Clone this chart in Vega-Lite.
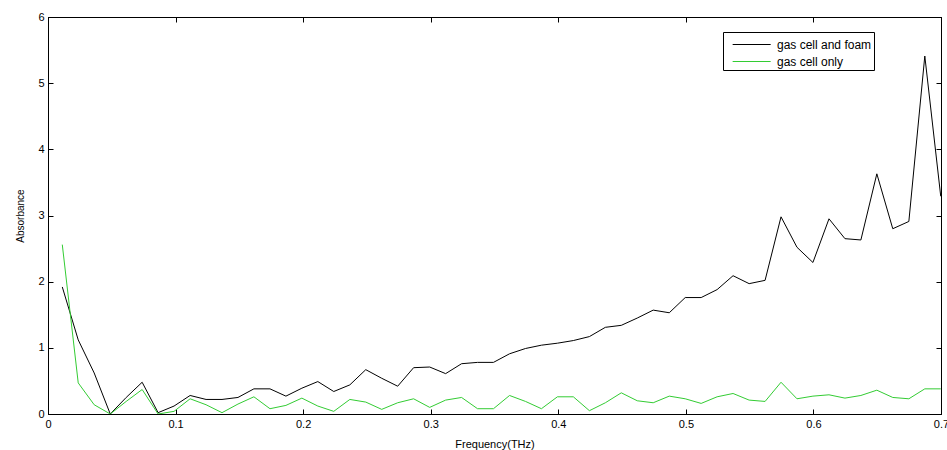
{
  "$schema": "https://vega.github.io/schema/vega-lite/v6.json",
  "width": 893,
  "height": 397,
  "autosize": "none",
  "padding": {"left": 48, "top": 17, "right": 6, "bottom": 36},
  "background": "white",
  "config": {
    "view": {"stroke": "black", "strokeWidth": 1},
    "font": "Liberation Sans",
    "axis": {
      "grid": false,
      "domainColor": "black",
      "tickColor": "black",
      "labelColor": "black",
      "titleColor": "black",
      "labelFont": "Liberation Sans",
      "titleFont": "Liberation Sans",
      "labelFontSize": 11,
      "titleFontSize": 11,
      "titleFontWeight": "normal",
      "tickSize": -5,
      "labelPadding": 9
    }
  },
  "data": {
    "values": [
      {"f": 0.0112, "foam": 1.92, "only": 2.56},
      {"f": 0.0237, "foam": 1.12, "only": 0.47},
      {"f": 0.0362, "foam": 0.62, "only": 0.14},
      {"f": 0.0488, "foam": 0.0, "only": 0.0},
      {"f": 0.0613, "foam": 0.25, "only": 0.19},
      {"f": 0.0738, "foam": 0.48, "only": 0.37},
      {"f": 0.0863, "foam": 0.02, "only": 0.0},
      {"f": 0.0988, "foam": 0.12, "only": 0.04},
      {"f": 0.1114, "foam": 0.28, "only": 0.23},
      {"f": 0.1239, "foam": 0.22, "only": 0.14},
      {"f": 0.1364, "foam": 0.22, "only": 0.02},
      {"f": 0.1489, "foam": 0.25, "only": 0.15},
      {"f": 0.1614, "foam": 0.38, "only": 0.26},
      {"f": 0.174, "foam": 0.38, "only": 0.08},
      {"f": 0.1865, "foam": 0.27, "only": 0.13},
      {"f": 0.199, "foam": 0.39, "only": 0.24},
      {"f": 0.2115, "foam": 0.49, "only": 0.12},
      {"f": 0.224, "foam": 0.34, "only": 0.04},
      {"f": 0.2366, "foam": 0.44, "only": 0.22},
      {"f": 0.2491, "foam": 0.67, "only": 0.18},
      {"f": 0.2616, "foam": 0.54, "only": 0.07},
      {"f": 0.2741, "foam": 0.42, "only": 0.17},
      {"f": 0.2866, "foam": 0.7, "only": 0.23},
      {"f": 0.2992, "foam": 0.71, "only": 0.1},
      {"f": 0.3117, "foam": 0.61, "only": 0.21},
      {"f": 0.3242, "foam": 0.76, "only": 0.25},
      {"f": 0.3367, "foam": 0.78, "only": 0.08},
      {"f": 0.3492, "foam": 0.78, "only": 0.08},
      {"f": 0.3618, "foam": 0.91, "only": 0.28},
      {"f": 0.3743, "foam": 0.99, "only": 0.19},
      {"f": 0.3868, "foam": 1.04, "only": 0.08},
      {"f": 0.3993, "foam": 1.07, "only": 0.26},
      {"f": 0.4118, "foam": 1.11, "only": 0.26},
      {"f": 0.4244, "foam": 1.17, "only": 0.05},
      {"f": 0.4369, "foam": 1.31, "only": 0.17},
      {"f": 0.4494, "foam": 1.34, "only": 0.32},
      {"f": 0.4619, "foam": 1.45, "only": 0.2},
      {"f": 0.4744, "foam": 1.57, "only": 0.17},
      {"f": 0.487, "foam": 1.53, "only": 0.27},
      {"f": 0.4995, "foam": 1.76, "only": 0.23},
      {"f": 0.512, "foam": 1.76, "only": 0.16},
      {"f": 0.5245, "foam": 1.88, "only": 0.26},
      {"f": 0.537, "foam": 2.09, "only": 0.31},
      {"f": 0.5496, "foam": 1.97, "only": 0.21},
      {"f": 0.5621, "foam": 2.02, "only": 0.19},
      {"f": 0.5746, "foam": 2.98, "only": 0.48},
      {"f": 0.5871, "foam": 2.52, "only": 0.23},
      {"f": 0.5996, "foam": 2.29, "only": 0.27},
      {"f": 0.6122, "foam": 2.95, "only": 0.29},
      {"f": 0.6247, "foam": 2.65, "only": 0.24},
      {"f": 0.6372, "foam": 2.63, "only": 0.28},
      {"f": 0.6497, "foam": 3.63, "only": 0.36},
      {"f": 0.6622, "foam": 2.8, "only": 0.25},
      {"f": 0.6748, "foam": 2.91, "only": 0.23},
      {"f": 0.6873, "foam": 5.41, "only": 0.38},
      {"f": 0.6998, "foam": 3.29, "only": 0.38}
    ]
  },
  "transform": [{"fold": ["foam", "only"], "as": ["series", "a"]}],
  "resolve": {"axis": {"x": "independent", "y": "independent"}},
  "layer": [
    {
      "mark": {"type": "line", "strokeWidth": 1, "clip": true},
      "encoding": {
        "x": {
          "field": "f", "type": "quantitative",
          "scale": {"domain": [0, 0.7], "nice": false, "zero": false},
          "axis": {"orient": "bottom", "title": "Frequency(THz)", "values": [0, 0.1, 0.2, 0.3, 0.4, 0.5, 0.6, 0.7], "format": "~g", "titlePadding": 9, "labelFlush": false}
        },
        "y": {
          "field": "a", "type": "quantitative",
          "scale": {"domain": [0, 6], "nice": false},
          "axis": {"orient": "left", "title": "Absorbance", "values": [0, 1, 2, 3, 4, 5, 6], "titleFontSize": 10, "titlePadding": 12, "labelFlush": false}
        },
        "color": {
          "field": "series", "type": "nominal",
          "scale": {"domain": ["foam", "only"], "range": ["#000000", "#33cc33"]},
          "legend": {
            "title": null,
            "orient": "none",
            "legendX": 675,
            "legendY": 15,
            "direction": "vertical",
            "symbolType": "M-0.3,0H3.7",
            "symbolSize": 361,
            "symbolStrokeWidth": 1.2,
            "labelFontSize": 12,
            "labelFont": "Liberation Sans",
            "labelColor": "black",
            "labelOffset": 31,
            "rowPadding": 0,
            "padding": 2,
            "strokeColor": "black",
            "fillColor": "white",
            "labelExpr": "datum.label == 'foam' ? 'gas cell and foam\u00a0\u00a0\u00a0\u00a0\u00a0' : 'gas cell only'"
          }
        }
      }
    },
    {
      "mark": {"type": "line", "strokeOpacity": 0},
      "encoding": {
        "x": {
          "field": "f", "type": "quantitative",
          "axis": {"orient": "top", "title": null, "labels": false, "values": [0, 0.1, 0.2, 0.3, 0.4, 0.5, 0.6, 0.7]}
        },
        "y": {
          "field": "a", "type": "quantitative",
          "axis": {"orient": "right", "title": null, "labels": false, "values": [0, 1, 2, 3, 4, 5, 6]}
        },
        "detail": {"field": "series", "type": "nominal"}
      }
    }
  ]
}
